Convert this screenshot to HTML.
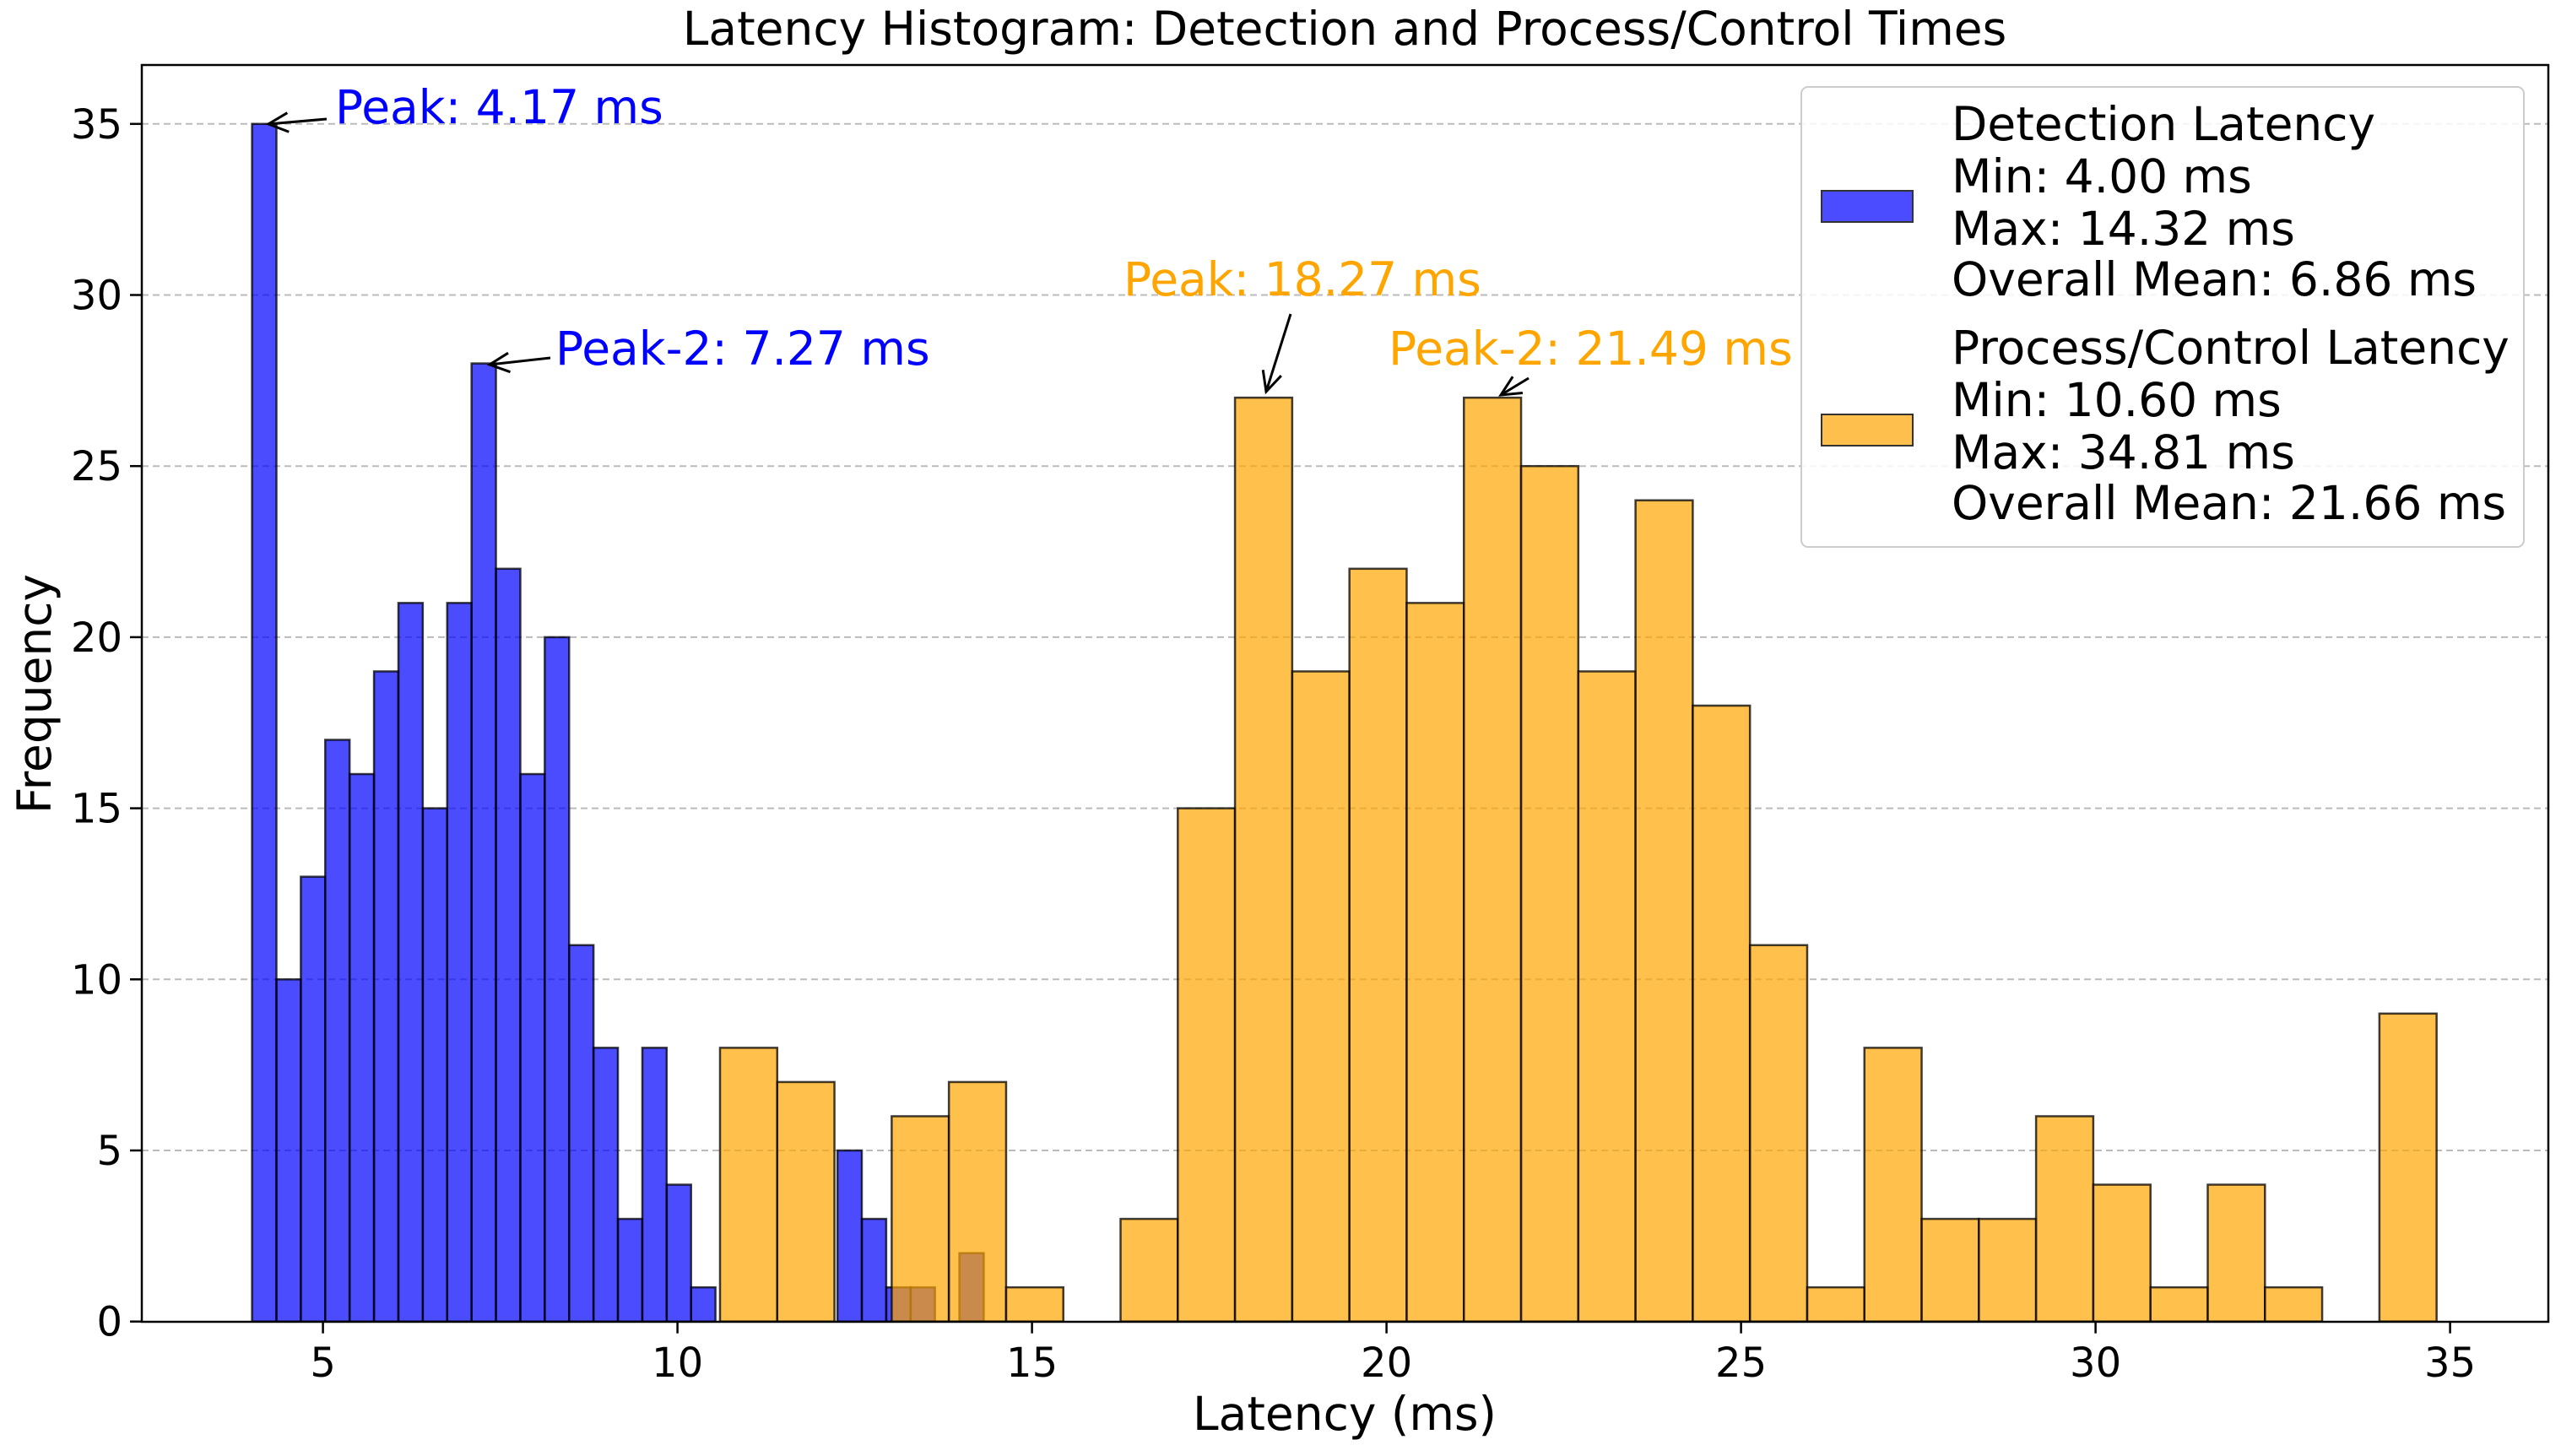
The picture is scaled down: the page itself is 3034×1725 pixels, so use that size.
<!DOCTYPE html>
<html><head><meta charset="utf-8"><style>
html,body{margin:0;padding:0;background:#fff;}
svg{display:block;font-family:"DejaVu Sans","Liberation Sans",sans-serif;}
</style></head><body>
<svg id="chart" width="3034" height="1725" viewBox="0 0 3034 1725" xmlns="http://www.w3.org/2000/svg">
<rect width="3034" height="1725" fill="#fff"/>
<text x="1593" y="53" font-size="55" text-anchor="middle" fill="#000">Latency Histogram: Detection and Process/Control Times</text>
<g id="grid"></g>
<g id="bars"></g>
<rect x="168" y="77" width="2851" height="1489" fill="none" stroke="#000" stroke-width="2.5"/>
<g id="axes"></g>
<text x="1593" y="1694" font-size="55" text-anchor="middle">Latency (ms)</text>
<text transform="translate(60,822) rotate(-90)" font-size="55" text-anchor="middle">Frequency</text>
<g id="annotations"></g>
<g>
<rect x="2134" y="103" width="856" height="545" rx="8" fill="#fff" fill-opacity="0.85" stroke="#ccc" stroke-width="2"/>
<rect x="2158" y="226" width="108" height="37" fill="#4b4bff" stroke="#333" stroke-width="2"/>
<rect x="2158" y="491" width="108" height="37" fill="#ffbf4d" stroke="#333" stroke-width="2"/>
<g font-size="55" fill="#000">
<text x="2312" y="166">Detection Latency</text>
<text x="2312" y="228">Min: 4.00 ms</text>
<text x="2312" y="290">Max: 14.32 ms</text>
<text x="2312" y="350">Overall Mean: 6.86 ms</text>
<text x="2312" y="431">Process/Control Latency</text>
<text x="2312" y="493">Min: 10.60 ms</text>
<text x="2312" y="555">Max: 34.81 ms</text>
<text x="2312" y="615">Overall Mean: 21.66 ms</text>
</g>
</g>
</svg>
<script>
const detStart = 4.0;
const detWidth = 0.344;
const detCounts = [35,10,13,17,16,19,21,15,21,28,22,16,20,11,8,3,8,4,1,0,0,0,0,0,5,3,1,1,0,2];
const procStart = 10.6;
const procWidth = 0.807;
const procCounts = [8,7,0,6,7,1,0,3,15,27,19,22,21,27,25,19,24,18,11,1,8,3,3,6,4,1,4,1,0,9];
const xTicks = [5,10,15,20,25,30,35];
const yTicks = [0,5,10,15,20,25,30,35];

const NS = "http://www.w3.org/2000/svg";
const X0 = 168, X1 = 3019, Y0 = 1565.7, Y1 = 77;
function xs(v){ return -37.4 + 84.0 * v; }
function ys(v){ return 1565.7 - 40.54 * v; }
function mk(tag, attrs, parent){ const e = document.createElementNS(NS, tag); for (const k in attrs) e.setAttribute(k, attrs[k]); parent.appendChild(e); return e; }

const grid = document.getElementById('grid');
yTicks.forEach(t => {
  if (t === 0) return;
  const l = mk('line', {x1:X0, x2:X1, y1:ys(t), y2:ys(t), stroke:'#bbb', 'stroke-width':2, 'stroke-dasharray':'8,5'}, grid);
  
  
});

const bars = document.getElementById('bars');
function drawSeries(start, w, counts, fill, name){
  counts.forEach((c, i) => {
    if (c <= 0) return;
    const a = start + i * w;
    const r = mk('rect', {x:xs(a), y:ys(c), width:xs(a + w) - xs(a), height:ys(0) - ys(c), fill:fill, 'fill-opacity':0.7, stroke:'#000', 'stroke-opacity':0.75, 'stroke-width':2.5}, bars);
    
    
  });
}
drawSeries(detStart, detWidth, detCounts, '#0000ff', 'detection-bar');
drawSeries(procStart, procWidth, procCounts, '#ffa500', 'process-bar');

const axes = document.getElementById('axes');
xTicks.forEach(t => {
  const x = xs(t);
  mk('line', {x1:x, x2:x, y1:Y0, y2:Y0 + 14, stroke:'#000', 'stroke-width':2.5}, axes);
  const tx = mk('text', {x:x, y:1631, 'font-size':48, 'text-anchor':'middle'}, axes);
  tx.textContent = t;
  
  
});
yTicks.forEach(t => {
  const y = ys(t);
  mk('line', {x1:X0 - 14, x2:X0, y1:y, y2:y, stroke:'#000', 'stroke-width':2.5}, axes);
  const tx = mk('text', {x:145, y:y + 17, 'font-size':48, 'text-anchor':'end'}, axes);
  tx.textContent = t;
  
  
});

const ann = document.getElementById('annotations');
function arrow(x1, y1, x2, y2){
  const g = mk('g', {}, ann);
  
  
  mk('line', {x1:x1, y1:y1, x2:x2, y2:y2, stroke:'#000', 'stroke-width':3}, g);
  const ang = Math.atan2(y2 - y1, x2 - x1), L = 26, s = 0.45;
  const p = (a) => (x2 - L * Math.cos(a)) + ',' + (y2 - L * Math.sin(a));
  mk('polyline', {points:p(ang - s) + ' ' + x2 + ',' + y2 + ' ' + p(ang + s), fill:'none', stroke:'#000', 'stroke-width':3}, g);
}
function label(x, y, txt, col, name){
  const t = mk('text', {x:x, y:y, 'font-size':55, fill:col}, ann);
  t.textContent = txt;
  
  
}
arrow(387, 141, 318, 147);
label(397, 146, 'Peak: 4.17 ms', '#0000ff', 'detection-peak-label');
arrow(652, 424, 580, 432);
label(658, 432, 'Peak-2: 7.27 ms', '#0000ff', 'detection-peak2-label');
arrow(1529, 372, 1500, 464);
label(1331, 350, 'Peak: 18.27 ms', '#ffa500', 'process-peak-label');
arrow(1811, 448, 1778, 468);
label(1645, 432, 'Peak-2: 21.49 ms', '#ffa500', 'process-peak2-label');
</script>
</body></html>
